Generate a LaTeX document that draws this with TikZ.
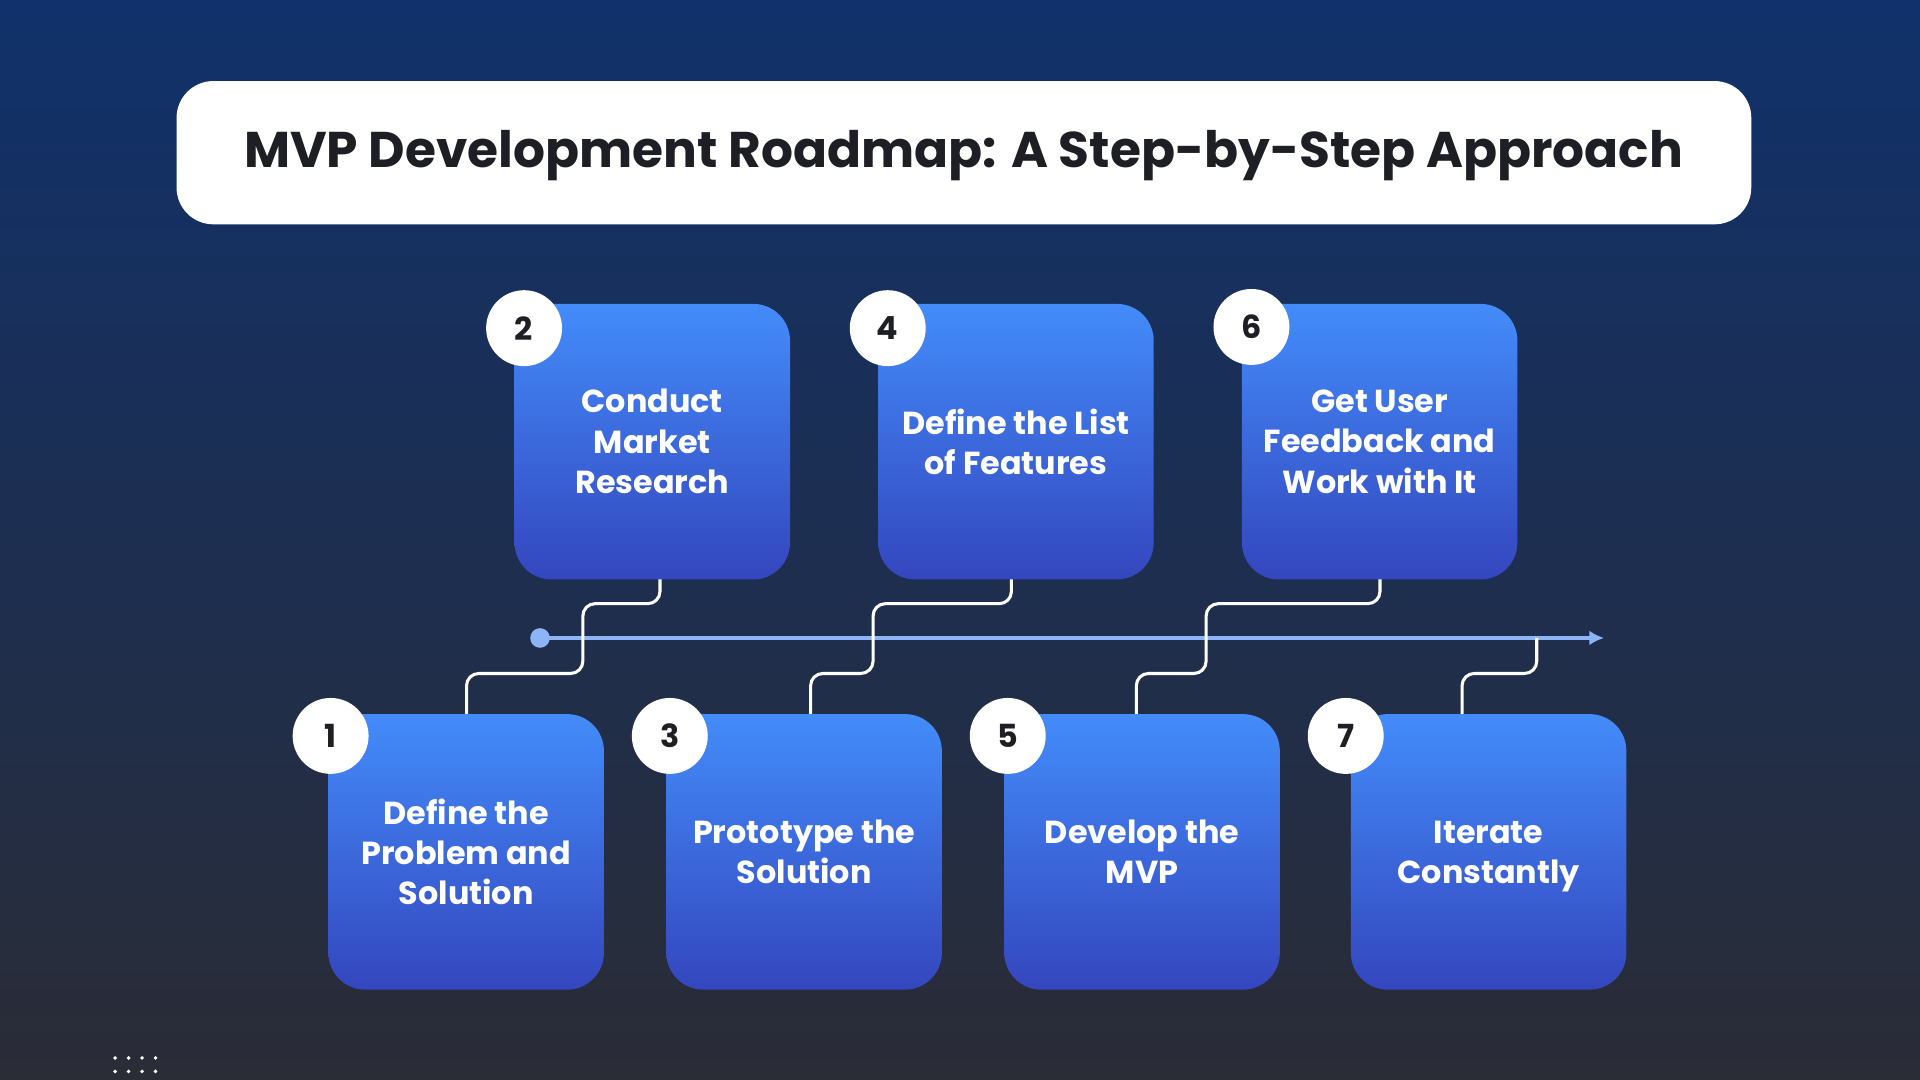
\documentclass[tikz,border=0pt]{standalone}
\usepackage{fontspec}
\setmainfont{Poppins}
\usetikzlibrary{arrows.meta}
\begin{document}
\begin{tikzpicture}[x=1pt,y=-1pt,
  stepbox/.style={rounded corners=30pt,minimum width=225pt,minimum height=225pt,top color=boxtop,bottom color=boxbot,draw=none,text=white,font=\fontsize{26}{33}\selectfont\bfseries,align=center,anchor=north west,inner sep=0pt},
  numc/.style={circle,fill=white,minimum size=62pt,inner sep=0pt,text=titletext,font=\fontsize{26}{30}\selectfont\bfseries},
  conn/.style={white,line width=2.5pt,rounded corners=10pt}]
\definecolor{bgtop}{HTML}{10316B}
\definecolor{bgbot}{HTML}{2A2C36}
\definecolor{boxtop}{HTML}{438CFA}
\definecolor{boxbot}{HTML}{3446BE}
\definecolor{titletext}{HTML}{1E1F24}
\definecolor{tl}{HTML}{8DB5F5}
\shade[top color=bgtop,bottom color=bgbot] (0,0) rectangle (1568,882);
\useasboundingbox (0,0) rectangle (1568,882);
\node[fill=white,rounded corners=30pt,minimum width=1286pt,minimum height=117pt,anchor=north west,inner sep=0pt] (title) at (144,66) {};
\node[text=titletext,font=\fontsize{41}{48}\selectfont\bfseries] (tt) at (787,127) {MVP Development Roadmap: A Step-by-Step Approach};
% timeline
\coordinate (ts) at (441,521);
\coordinate (te) at (1310,521);
\draw[tl,line width=3pt,-{Latex[length=12pt,width=12pt]}] (ts) -- (te);
\fill[tl] (ts) circle (8pt);
% connectors
\draw[conn] (539,473) -- (539,493) -- (476,493) -- (476,550) -- (381,550) -- (381,583);
\draw[conn] (826,473) -- (826,493) -- (713,493) -- (713,550) -- (662,550) -- (662,583);
\draw[conn] (1127,473) -- (1127,493) -- (985,493) -- (985,550) -- (928,550) -- (928,583);
\draw[conn] (1194,583) -- (1194,550) -- (1255,550) -- (1255,521);
% boxes
\node[stepbox] (b2) at (420,248) {Conduct\\Market\\Research};
\node[stepbox] (b4) at (717,248) {Define the List\\of Features};
\node[stepbox] (b6) at (1014,248) {Get User\\Feedback and\\Work with It};
\node[stepbox] (b1) at (268,583) {Define the\\Problem and\\Solution};
\node[stepbox] (b3) at (544,583) {Prototype the\\Solution};
\node[stepbox] (b5) at (820,583) {Develop the\\MVP};
\node[stepbox] (b7) at (1103,583) {\rule{0pt}{26pt}Iterate\\Constantly};
\node[numc] (n2) at (428,268) {2};
\node[numc] (n4) at (725,268) {4};
\node[numc] (n6) at (1022,267) {6};
\node[numc] (n1) at (270,601) {1};
\node[numc] (n3) at (547,601) {3};
\node[numc] (n5) at (823,601) {5};
\node[numc] (n7) at (1099,601) {7};
% dots
\foreach \i in {0,1,2,3} \foreach \j in {0,1} \fill[white] (94+\i*11,864+\j*11) circle (1.6pt);
\end{tikzpicture}
\end{document}
